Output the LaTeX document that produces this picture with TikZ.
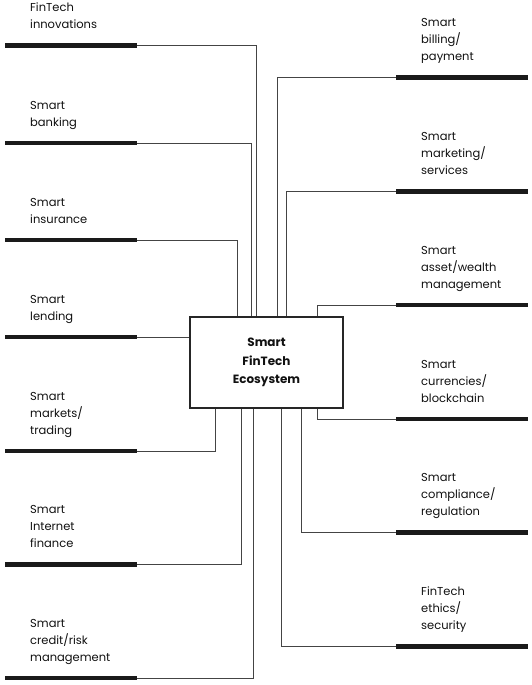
\documentclass[tikz,border=0pt]{standalone}
\usepackage{fontspec}
\setmainfont{Poppins}
\definecolor{txt}{HTML}{111111}
\definecolor{conn}{HTML}{444444}
\definecolor{barc}{HTML}{1A1A1A}
\begin{document}
\begin{tikzpicture}[x=1pt,y=-1pt,
  lbl/.style={anchor=base west,inner sep=0pt,text=txt,font=\fontsize{11.5}{17}\selectfont},
  hbar/.style={draw=barc,line width=4.8pt},
  link/.style={draw=conn,line width=1pt},
  hub/.style={draw=black!85,line width=1.8pt,minimum width=153pt,minimum height=91pt,inner sep=0pt,
    font=\fontsize{12}{18.3}\selectfont\bfseries,text=txt,align=center}]
\useasboundingbox (0,0) rectangle (532,685);
\node[hub] (box) at (266.5,362.5) {Smart\\FinTech\\Ecosystem};
% left bars
\newcommand{\lbar}[4]{%
  \coordinate (#1a) at (5,#2); \coordinate (#1b) at (137,#2);
  \draw[hbar] (#1a) -- (#1b);
  \node[lbl] (#1t) at (30,#2-17) {\begin{tabular}[b]{@{}l@{}}#3\end{tabular}};}
\newcommand{\rbar}[4]{%
  \coordinate (#1a) at (396,#2); \coordinate (#1b) at (528,#2);
  \draw[hbar] (#1a) -- (#1b);
  \node[lbl] (#1t) at (421,#2-17) {\begin{tabular}[b]{@{}l@{}}#3\end{tabular}};}
\lbar{l1}{45.5}{FinTech\\innovations}{}
\lbar{l2}{143}{Smart\\banking}{}
\lbar{l3}{240}{Smart\\insurance}{}
\lbar{l4}{337}{Smart\\lending}{}
\lbar{l5}{451}{Smart\\markets/\\trading}{}
\lbar{l6}{564.5}{Smart\\Internet\\finance}{}
\lbar{l7}{678}{Smart\\credit/risk\\management}{}
\rbar{r1}{77.7}{Smart\\billing/\\payment}{}
\rbar{r2}{191.7}{Smart\\marketing/\\services}{}
\rbar{r3}{305}{Smart\\asset/wealth\\management}{}
\rbar{r4}{419}{Smart\\currencies/\\blockchain}{}
\rbar{r5}{532.7}{Smart\\compliance/\\regulation}{}
\rbar{r6}{646.7}{FinTech\\ethics/\\security}{}
% connectors
\draw[link] (l1b) -| ([xshift=-10.5pt]box.north);
\draw[link] (l2b) -| ([xshift=-15.5pt]box.north);
\draw[link] (l3b) -| ([xshift=-29.5pt]box.north);
\draw[link] (l4b) -- (box.west |- l4b);
\draw[link] (l5b) -| ([xshift=-51.5pt]box.south);
\draw[link] (l6b) -| ([xshift=-25.5pt]box.south);
\draw[link] (l7b) -| ([xshift=-13pt]box.south);
\draw[link] (r1a) -| ([xshift=11pt]box.north);
\draw[link] (r2a) -| ([xshift=19.5pt]box.north);
\draw[link] (r3a) -| ([xshift=51.2pt]box.north);
\draw[link] (r4a) -| ([xshift=51.2pt]box.south);
\draw[link] (r5a) -| ([xshift=34.5pt]box.south);
\draw[link] (r6a) -| ([xshift=15.2pt]box.south);
\end{tikzpicture}
\end{document}
